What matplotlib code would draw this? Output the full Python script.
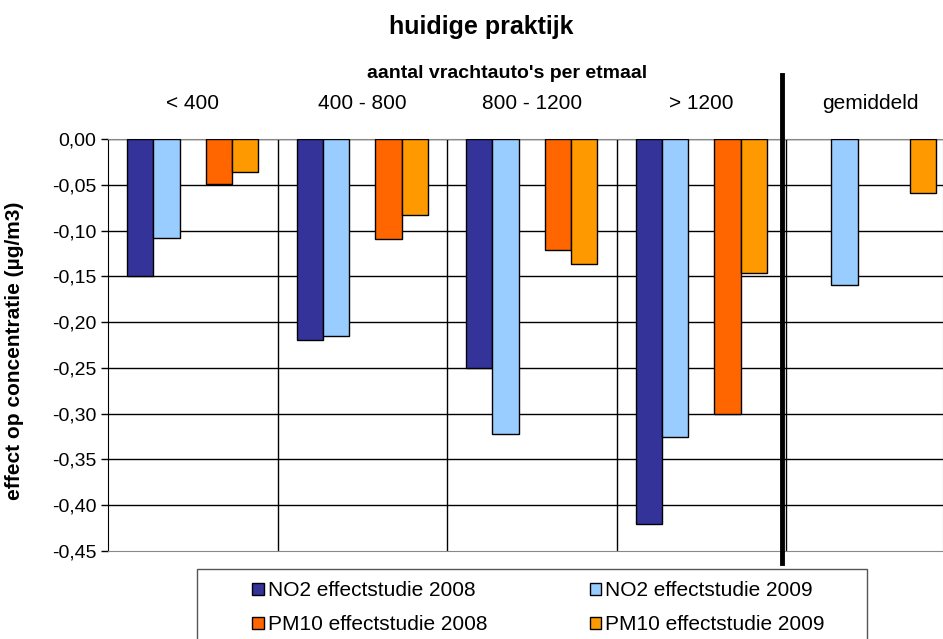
import matplotlib.pyplot as plt
import numpy as np
from matplotlib.ticker import FuncFormatter
from matplotlib.patches import Rectangle

plt.rcParams['font.family'] = ['Liberation Sans', 'DejaVu Sans']

# Data
categories = ['< 400', '400 - 800', '800 - 1200', '> 1200', 'gemiddeld']
no2_2008 = [-0.150, -0.220, -0.250, -0.420, np.nan]
no2_2009 = [-0.108, -0.215, -0.322, -0.326, -0.159]
pm10_2008 = [-0.049, -0.109, -0.121, -0.300, np.nan]
pm10_2009 = [-0.036, -0.083, -0.137, -0.146, -0.059]

series = [
    ('NO2 effectstudie 2008', no2_2008, '#333399'),
    ('NO2 effectstudie 2009', no2_2009, '#99CCFF'),
    ('PM10 effectstudie 2008', pm10_2008, '#FF6600'),
    ('PM10 effectstudie 2009', pm10_2009, '#FF9900'),
]
offsets = [-2, -1, 1, 2]
w = 0.155

W, H = 943, 639
fig = plt.figure(figsize=(W / 100, H / 100), dpi=100)
ax = fig.add_axes([108 / W, 1 - 551 / H, (943 - 108) / W, (551 - 139) / H])

x = np.arange(len(categories))
bars = []
for (label, vals, color), off in zip(series, offsets):
    b = ax.bar(x + off * w, vals, width=w, color=color, edgecolor='black',
               linewidth=1.0, label=label, zorder=3)
    bars.append(b)

ax.set_ylim(-0.45, 0)
ax.set_xlim(-0.5, -0.5 + 835 / 169.5)
ax.set_yticks(np.arange(-0.45, 0.001, 0.05))
ax.yaxis.set_major_formatter(FuncFormatter(lambda v, p: f'{v:.2f}'.replace('.', ',').replace('-0,00', '0,00')))
ax.tick_params(axis='y', labelsize=14, length=5, direction='out', width=1)
ax.tick_params(axis='x', bottom=False, labelbottom=False)

# grid: horizontal lines and category separators
for yv in np.arange(-0.40, 0.001, 0.05):
    ax.axhline(yv, color='black', linewidth=1, zorder=1)
for b in [0.5, 1.5, 2.5, 3.5]:
    ax.axvline(b, color='black', linewidth=1, zorder=1)

for s in ['top', 'right', 'bottom']:
    ax.spines[s].set_color('#888888')
ax.spines['left'].set_color('black')

# category labels on top
for xi, c in zip(x, categories):
    ax.text(xi, 1.085, c, transform=ax.get_xaxis_transform(), ha='center',
            va='center', fontsize=15)

# thick separator before "gemiddeld"
ax.axvline(3.475, ymin=-0.03, ymax=1.155, color='black', linewidth=3.5,
           clip_on=False, zorder=4)

ax.set_ylabel('effect op concentratie (µg/m3)', fontsize=15, fontweight='bold')
ax.yaxis.set_label_coords(-0.1, 0.485)

fig.text(481 / W, 1 - 27 / H, 'huidige praktijk', ha='center', va='center',
         fontsize=18, fontweight='bold')
fig.text(507 / W, 1 - 73 / H, "aantal vrachtauto's per etmaal", ha='center',
         va='center', fontsize=14, fontweight='bold')

# legend box
fig.patches.append(Rectangle((197 / W, -0.05), (867 - 197) / W, 1 - 569 / H + 0.05,
                             transform=fig.transFigure, facecolor='white',
                             edgecolor='#555555', linewidth=1, zorder=0))
order = [0, 2, 1, 3]
leg = fig.legend([bars[i] for i in order], [series[i][0] for i in order],
                 loc='upper left', bbox_to_anchor=(242 / W, 1 - 571 / H),
                 ncol=2, fontsize=15, frameon=False,
                 handlelength=0.55, handleheight=0.55, handletextpad=0.2,
                 borderpad=0, labelspacing=0.72, columnspacing=4.9)

fig.savefig('out.png', dpi=100)
